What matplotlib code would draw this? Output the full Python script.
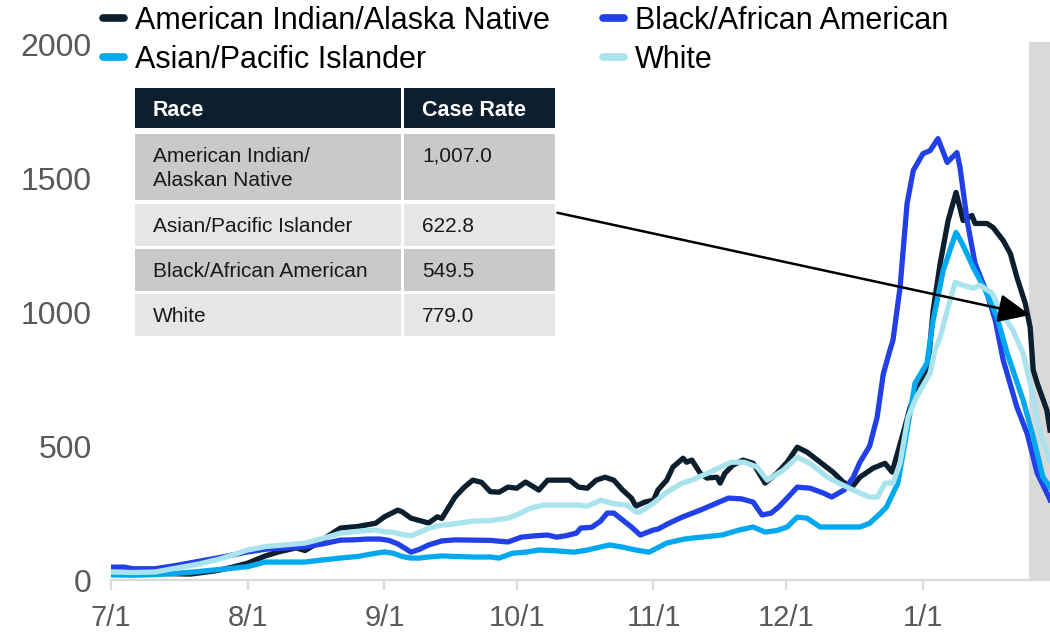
import matplotlib
matplotlib.use('Agg')
import matplotlib.pyplot as plt
from matplotlib.patches import Rectangle
from matplotlib.lines import Line2D

plt.rcParams['font.family'] = ['Liberation Sans', 'DejaVu Sans']

# ---------------- data (x = days since 7/1) ----------------
month_days = [0, 31, 62, 92, 123, 153, 184]
month_labels = ['7/1', '8/1', '9/1', '10/1', '11/1', '12/1', '1/1']
y_ticks = [0, 500, 1000, 1500, 2000]

series_names = ['American Indian/Alaska Native', 'Black/African American',
                'Asian/Pacific Islander', 'White']

aian_days = [0, 10, 18, 24, 28, 31, 35, 38, 42, 44, 47, 52, 56, 60, 62, 65, 66, 68, 72, 74, 75, 78, 80, 82, 84,
             86, 88, 90, 92, 94, 97, 99, 102, 104, 106, 108, 110, 112, 114, 116, 118, 119, 121, 123, 124, 126,
             127.4, 129.7, 130.5, 131.7, 133.6, 135.1, 137.4, 138.1, 139.2, 141, 143.3, 145.6, 148.3, 151, 153.3,
             155.6, 157.8, 160.8, 163.7, 166, 168, 169.8, 172.8, 175.5, 177.1, 179.6, 181.2, 183.9, 185.3, 186.4,
             188, 189.8, 191.6, 193.2, 195.2, 195.9, 198.6, 200, 202.3, 203.9, 205.4, 207.3, 208.4, 209.1, 210,
             212.2, 212.9]
aian_vals = [28, 25, 22, 35, 50, 63, 90, 105, 120, 110, 140, 194, 200, 212, 236, 261, 255, 231, 213, 236, 230, 310,
             345, 373, 365, 330, 328, 347, 343, 366, 336, 373, 373, 373, 347, 343, 373, 384, 373, 336, 306, 276,
             291, 298, 336, 373, 422, 455, 440, 448, 399, 381, 384, 362, 399, 429, 448, 436, 362, 399, 440, 496,
             478, 440, 403, 366, 347, 384, 418, 436, 403, 548, 646, 746, 810, 1007, 1183, 1343, 1448, 1343, 1362,
             1332, 1332, 1317, 1268, 1220, 1131, 1033, 944, 784, 735, 634, 560]

black_days = [0, 3, 5, 10, 15, 20, 25, 31, 35, 40, 44, 48, 52, 55, 58, 61, 63, 65, 67, 68, 70, 72, 75, 78, 82, 86,
              90, 93, 96, 99, 101, 103, 105.5, 106.5, 109, 111, 112.5, 114, 116, 118, 120, 123, 124, 126.5, 129.5,
              133.6, 137, 140, 143, 145.6, 147.6, 149.7, 151.5, 153.3, 155.6, 158.5, 161.5, 163.4, 166.2, 168.3,
              169.8, 172, 173.7, 175.1, 176.6, 177.3, 178.9, 180.5, 181.9, 184.1, 185.7, 187.5, 189.6, 191.8, 192.5,
              194.1, 195.9, 198.6, 200.5, 202.3, 205.4, 207.7, 210, 212.2, 212.9]
black_vals = [48, 48, 42, 42, 55, 70, 85, 105, 115, 120, 124, 135, 149, 150, 153, 153, 148, 135, 115, 104, 115, 131,
              146, 150, 149, 148, 142, 160, 165, 168, 160, 165, 175, 194, 197, 220, 250, 250, 224, 198, 168, 187,
              190, 212, 235, 261, 285, 306, 303, 291, 243, 250, 275, 306, 347, 343, 325, 310, 336, 384, 440, 500,
              608, 770, 858, 896, 1093, 1407, 1530, 1593, 1604, 1649, 1560, 1597, 1541, 1343, 1183, 1071, 970, 821,
              646, 548, 399, 325, 300]

asian_days = [0, 5, 10, 15, 20, 25, 31, 35, 40, 44, 48, 52, 56, 60, 62, 64, 66, 68, 70, 72, 75, 78, 82, 86, 88, 91,
              94, 97, 100, 105, 108, 113, 116, 119, 122, 126, 130, 132, 138.5, 142.5, 145.6, 148.3, 151, 153.3,
              155.6, 157.8, 160.8, 163.7, 167, 169.8, 172, 174.5, 175.8, 178.4, 180.5, 182.3, 185, 186.4, 188.7,
              190.2, 191.6, 193.2, 195.5, 198.6, 200.9, 203.2, 206.8, 209.1, 211.3, 212.9]
asian_vals = [19, 18, 20, 25, 32, 40, 50, 67, 67, 67, 75, 82, 88, 100, 105, 100, 88, 82, 82, 86, 90, 88, 86, 86, 82,
              100, 104, 112, 110, 104, 112, 131, 123, 112, 104, 138, 153, 157, 168, 187, 198, 179, 185, 198, 235,
              231, 198, 198, 198, 198, 212, 250, 272, 362, 560, 735, 810, 970, 1157, 1231, 1299, 1250, 1168, 1071,
              981, 847, 672, 534, 384, 347]

white_days = [0, 5, 10, 15, 20, 25, 31, 35, 40, 44, 48, 52, 56, 60, 62, 64, 66, 68, 70, 72, 75, 78, 82, 86, 90, 92,
              95, 98, 103, 106, 108, 111, 114, 117, 119, 120, 123, 126, 129.5, 131.7, 135.8, 140.6, 143.6, 146.5,
              148.8, 152.4, 155.6, 158.5, 162.4, 166, 169.8, 172, 173.8, 175.5, 177.3, 178.9, 180.7, 182.6, 185.7,
              186.8, 188, 189.8, 191.4, 193.2, 195.5, 197, 199.8, 201.6, 204.5, 206.8, 208.4, 210.7, 212.9]
white_vals = [30, 28, 30, 45, 60, 80, 112, 125, 132, 138, 155, 175, 182, 187, 180, 178, 170, 165, 178, 194, 205, 210,
              220, 222, 231, 243, 268, 280, 280, 280, 276, 298, 285, 280, 254, 254, 287, 328, 362, 373, 403, 440,
              440, 422, 373, 410, 459, 436, 384, 354, 325, 310, 310, 362, 362, 436, 608, 683, 772, 858, 907, 1019,
              1112, 1101, 1090, 1101, 1071, 1007, 933, 847, 735, 548, 448]

table_races = ['American Indian/\nAlaskan Native', 'Asian/Pacific Islander', 'Black/African American', 'White']
table_rates = ['1,007.0', '622.8', '549.5', '779.0']

colors = {'aian': '#0b1f2f', 'black': '#2140e8', 'asian': '#00a8f0', 'white': '#a8e3ee'}

# ---------------- figure ----------------
W, H = 1050, 636
fig = plt.figure(figsize=(W / 100, H / 100), dpi=100)


def fx(px):
    return px / W


def fy(py):
    return 1 - py / H


ax = fig.add_axes([fx(111), fy(580), (W - 111) / W, (580 - 42) / H])
ax.set_xlim(0, 212.9)
ax.set_ylim(0, 2010)

ax.axvspan(208.2, 212.9, color='#d9d9d9', lw=0, zorder=0)

lw = 3.8
ax.plot(aian_days, aian_vals, color=colors['aian'], lw=lw, zorder=3, solid_joinstyle='round')
ax.plot(black_days, black_vals, color=colors['black'], lw=lw, zorder=4, solid_joinstyle='round')
ax.plot(asian_days, asian_vals, color=colors['asian'], lw=lw, zorder=5, solid_joinstyle='round')
ax.plot(white_days, white_vals, color=colors['white'], lw=lw, zorder=6, solid_joinstyle='round')

for s in ['top', 'right', 'left']:
    ax.spines[s].set_visible(False)
ax.spines['bottom'].set_color('#d9d9d9')
ax.spines['bottom'].set_linewidth(1.6)

ax.set_yticks(y_ticks)
ax.set_yticklabels([str(v) for v in y_ticks])
ax.set_xticks(month_days)
ax.set_xticklabels(month_labels)
ax.tick_params(axis='y', length=0, pad=14, labelsize=23, labelcolor='#595959')
ax.tick_params(axis='x', length=7.5, width=1.6, color='#d9d9d9', pad=10, labelsize=21, labelcolor='#595959')

# ---------------- legend ----------------
def handle(c):
    return Line2D([], [], color=c, lw=5.5, solid_capstyle='round')


leg_kw = dict(loc='upper left', frameon=False, fontsize=22, handlelength=0.7, handletextpad=0.35,
              labelspacing=0.3, borderaxespad=0, borderpad=0)
leg1 = fig.legend([handle(colors['aian']), handle(colors['asian'])], [series_names[0], series_names[2]],
                  bbox_to_anchor=(fx(103), fy(6)), **leg_kw)
leg2 = fig.legend([handle(colors['black']), handle(colors['white'])], [series_names[1], series_names[3]],
                  bbox_to_anchor=(fx(603), fy(6)), **leg_kw)

# ---------------- table ----------------
col_x = [(135, 401), (404, 555)]
row_y = [(88, 128), (134, 200), (204, 246), (249, 291), (294, 336)]
row_colors = ['#0b1f2f', '#c9c9c9', '#e6e6e6', '#c9c9c9', '#e6e6e6']


def rect(x0, x1, y0, y1, c):
    fig.add_artist(Rectangle((fx(x0), fy(y1)), (x1 - x0) / W, (y1 - y0) / H,
                             transform=fig.transFigure, facecolor=c, edgecolor='none', zorder=10))


for (y0, y1), c in zip(row_y, row_colors):
    for (x0, x1) in col_x:
        rect(x0, x1, y0, y1, c)

fig.text(fx(153), fy(110), 'Race', color='white', fontsize=15.5, fontweight='bold', va='center', zorder=11)
fig.text(fx(422), fy(110), 'Case Rate', color='white', fontsize=15.5, fontweight='bold', va='center', zorder=11)
for (y0, y1), race, rate in zip(row_y[1:], table_races, table_rates):
    fig.text(fx(153), fy(y0 + 13), race, color='#1a1a1a', fontsize=15, va='top', zorder=11, linespacing=1.3)
    fig.text(fx(422), fy(y0 + 13), rate, color='#1a1a1a', fontsize=15, va='top', zorder=11)

# ---------------- arrow ----------------
ax.annotate('', xy=(208.4, 990), xytext=(101.2, 1372),
            arrowprops=dict(arrowstyle='-|>,head_length=0.9,head_width=0.4', color='black', lw=1.8,
                            shrinkA=0, shrinkB=0, mutation_scale=22),
            annotation_clip=False, zorder=12)

fig.savefig('out.png', dpi=100)
